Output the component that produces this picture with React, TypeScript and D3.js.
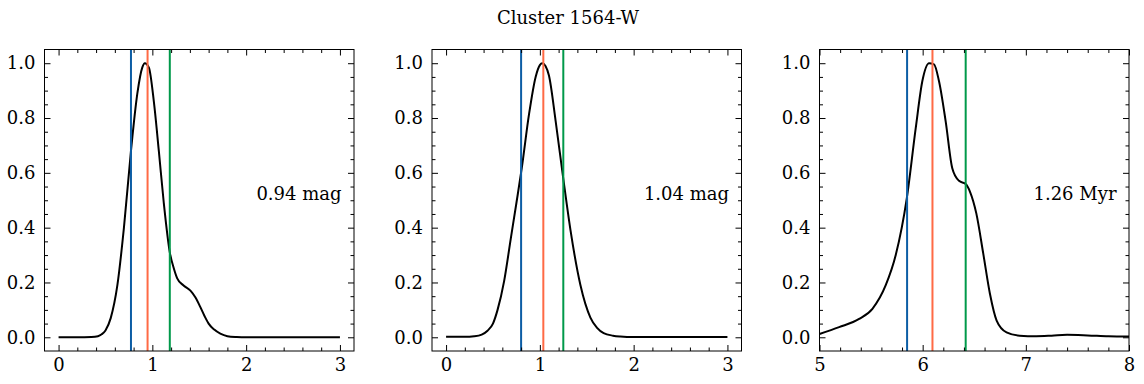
import React, { useEffect, useRef } from "react";
import * as d3 from "d3";

const title = "Cluster 1564-W";
const panelLabels = ["0.94 mag", "1.04 mag", "1.26 Myr"];

// kde curves, normalised to peak 1
const kdeX1 = [0, 0.2, 0.35, 0.42, 0.46, 0.5, 0.556, 0.627, 0.697, 0.772, 0.84, 0.893, 0.92, 0.963, 1.016, 1.069, 1.122, 1.186, 1.23, 1.265, 1.33, 1.406, 1.46, 1.512, 1.56, 1.6, 1.66, 1.725, 1.8, 1.9, 2.0, 2.5, 3.0];
const kdeY1 = [0, 0, 0.001, 0.004, 0.011, 0.025, 0.07, 0.19, 0.4, 0.68, 0.89, 0.985, 1.0, 0.984, 0.86, 0.68, 0.49, 0.31, 0.25, 0.215, 0.19, 0.17, 0.145, 0.11, 0.075, 0.05, 0.028, 0.013, 0.004, 0.001, 0, 0, 0];

const kdeX2 = [0, 0.2, 0.3, 0.38, 0.442, 0.5, 0.549, 0.619, 0.69, 0.75, 0.807, 0.885, 0.955, 1.0, 1.025, 1.06, 1.097, 1.168, 1.249, 1.327, 1.433, 1.539, 1.61, 1.68, 1.78, 1.858, 2.0, 2.5, 3.0];
const kdeY2 = [0.002, 0.002, 0.004, 0.01, 0.024, 0.05, 0.1, 0.205, 0.36, 0.49, 0.617, 0.815, 0.95, 0.993, 1.0, 0.99, 0.955, 0.79, 0.581, 0.39, 0.19, 0.072, 0.034, 0.015, 0.006, 0.003, 0.001, 0.001, 0.001];

const kdeX3 = [5.0, 5.19, 5.384, 5.513, 5.642, 5.739, 5.846, 5.933, 5.997, 6.062, 6.11, 6.158, 6.223, 6.287, 6.352, 6.417, 6.46, 6.52, 6.587, 6.652, 6.717, 6.813, 6.94, 7.1, 7.25, 7.4, 7.6, 7.8, 8.0];
const kdeY3 = [0.012, 0.037, 0.067, 0.104, 0.19, 0.3, 0.507, 0.764, 0.935, 1.0, 0.996, 0.935, 0.788, 0.617, 0.571, 0.559, 0.53, 0.452, 0.306, 0.159, 0.061, 0.018, 0.006, 0.004, 0.006, 0.009, 0.007, 0.004, 0.003];

// percentile markers per panel
const lowerVals = [0.772, 0.8, 5.849];
const medianVals = [0.949, 1.037, 6.095];
const upperVals = [1.186, 1.25, 6.417];

const xDomains: [number, number][] = [[-0.15, 3.15], [-0.15, 3.15], [5, 8]];
const xMajorTicks = [[0, 1, 2, 3], [0, 1, 2, 3], [5, 6, 7, 8]];
const yMajorTicks = [0, 0.2, 0.4, 0.6, 0.8, 1.0];

const App = () => {
    const svgRef = useRef<SVGSVGElement>(null);

    useEffect(() => {
        const width = 1144;
        const height = 384;
        const lefts = [44.5, 432, 819.5];
        const pw = 309.5;
        const top = 49.5;
        const ph = 301.5;
        const font = "DejaVu Serif, serif";

        const svg = d3.select(svgRef.current);
        svg.selectAll("*").remove();
        svg.attr("width", width).attr("height", height);

        svg.append("rect").attr("width", width).attr("height", height).attr("fill", "white");

        svg.append("text")
            .attr("x", 568)
            .attr("y", 24)
            .attr("text-anchor", "middle")
            .attr("fill", "black")
            .style("font-family", font)
            .style("font-size", "18px")
            .text(title);

        const curves = [
            kdeX1.map((x, i) => [x, kdeY1[i]]),
            kdeX2.map((x, i) => [x, kdeY2[i]]),
            kdeX3.map((x, i) => [x, kdeY3[i]]),
        ];

        curves.forEach((pts, p) => {
            const g = svg.append("g").attr("transform", `translate(${lefts[p]},${top})`);

            const x = d3.scaleLinear().domain(xDomains[p]).range([0, pw]);
            const y = d3.scaleLinear().domain([-0.05, 1.05]).range([ph, 0]);

            const clipId = `clip${p}`;
            g.append("clipPath").attr("id", clipId)
                .append("rect").attr("width", pw).attr("height", ph);

            const plot = g.append("g").attr("clip-path", `url(#${clipId})`);

            const line = d3.line<number[]>()
                .x(d => x(d[0]))
                .y(d => y(d[1]))
                .curve(d3.curveMonotoneX);

            plot.append("path")
                .datum(pts)
                .attr("d", line)
                .attr("fill", "none")
                .attr("stroke", "black")
                .attr("stroke-width", 2);

            const marks = [
                { v: lowerVals[p], c: "#0C5DA5" },
                { v: medianVals[p], c: "#FF6A45" },
                { v: upperVals[p], c: "#00994A" },
            ];
            plot.selectAll("line.mark")
                .data(marks)
                .enter()
                .append("line")
                .attr("x1", d => x(d.v))
                .attr("x2", d => x(d.v))
                .attr("y1", 0)
                .attr("y2", ph)
                .attr("stroke", d => d.c)
                .attr("stroke-width", 2);

            // minor tick positions
            const [x0, x1] = xDomains[p];
            const xMinor = d3.range(Math.ceil(x0 / 0.2) * 0.2, x1, 0.2)
                .map(v => +v.toFixed(2))
                .filter(v => v > x0 && v < x1 && !xMajorTicks[p].some(m => Math.abs(m - v) < 1e-6));
            const yMinor = d3.range(-0.05, 1.05, 0.05)
                .map(v => +v.toFixed(2))
                .filter(v => v > -0.05 && v < 1.05 && !yMajorTicks.some(m => Math.abs(m - v) < 1e-6));

            const styleAxis = (sel: any) => {
                sel.select(".domain").remove();
                sel.selectAll("line").attr("stroke", "black").attr("stroke-width", 1);
                sel.selectAll("text")
                    .attr("fill", "black")
                    .style("font-family", font)
                    .style("font-size", "18px");
            };

            // bottom
            g.append("g").attr("transform", `translate(0,${ph})`)
                .call(d3.axisBottom(x).tickValues(xMajorTicks[p]).tickFormat(d3.format("d")).tickSizeInner(-6).tickSizeOuter(0).tickPadding(7))
                .call(styleAxis);
            g.append("g").attr("transform", `translate(0,${ph})`)
                .call(d3.axisBottom(x).tickValues(xMinor).tickFormat(() => "").tickSizeInner(-3.5).tickSizeOuter(0))
                .call(styleAxis);
            // top
            g.append("g")
                .call(d3.axisTop(x).tickValues(xMajorTicks[p]).tickFormat(() => "").tickSizeInner(-6).tickSizeOuter(0))
                .call(styleAxis);
            g.append("g")
                .call(d3.axisTop(x).tickValues(xMinor).tickFormat(() => "").tickSizeInner(-3.5).tickSizeOuter(0))
                .call(styleAxis);
            // left
            g.append("g")
                .call(d3.axisLeft(y).tickValues(yMajorTicks).tickFormat(d3.format(".1f")).tickSizeInner(-6).tickSizeOuter(0).tickPadding(9))
                .call(styleAxis);
            g.append("g")
                .call(d3.axisLeft(y).tickValues(yMinor).tickFormat(() => "").tickSizeInner(-3.5).tickSizeOuter(0))
                .call(styleAxis);
            // right
            g.append("g").attr("transform", `translate(${pw},0)`)
                .call(d3.axisRight(y).tickValues(yMajorTicks).tickFormat(() => "").tickSizeInner(-6).tickSizeOuter(0))
                .call(styleAxis);
            g.append("g").attr("transform", `translate(${pw},0)`)
                .call(d3.axisRight(y).tickValues(yMinor).tickFormat(() => "").tickSizeInner(-3.5).tickSizeOuter(0))
                .call(styleAxis);

            // frame
            g.append("rect")
                .attr("width", pw)
                .attr("height", ph)
                .attr("fill", "none")
                .attr("stroke", "black")
                .attr("stroke-width", 1);

            g.append("text")
                .attr("x", pw - 12.5)
                .attr("y", ph / 2)
                .attr("text-anchor", "end")
                .attr("fill", "black")
                .style("font-family", font)
                .style("font-size", "18px")
                .text(panelLabels[p]);
        });
    }, []);

    return (
        <div style={{ position: "absolute", left: 0, top: 0 }}>
            <svg ref={svgRef} style={{ display: "block" }}></svg>
        </div>
    );
};

export default App;
